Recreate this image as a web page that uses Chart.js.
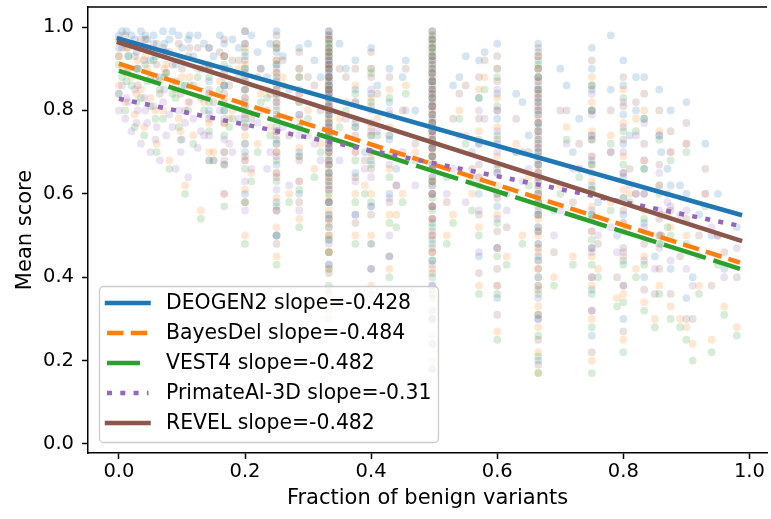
<!DOCTYPE html>
<html>
<head>
<meta charset="utf-8">
<script src="https://cdn.jsdelivr.net/npm/chart.js@4.4.1/dist/chart.umd.min.js"></script>
<style>
  body { margin: 0; background: #fff; }
  canvas { display: block; }
</style>
</head>
<body>
<canvas id="scoreChart" width="771" height="519"></canvas>
<script>
const xTicks = [0, 0.2, 0.4, 0.6, 0.8, 1.0];
const yTicks = [0, 0.2, 0.4, 0.6, 0.8, 1.0];

const predictors = ['DEOGEN2', 'BayesDel', 'VEST4', 'PrimateAI-3D', 'REVEL'];
const slopes = ['-0.428', '-0.484', '-0.482', '-0.31', '-0.482'];

// regression lines, y at the two ends of fitX
const fitX = [0, 0.985];
const deogenFit = [0.972, 0.55];
const bayesFit = [0.912, 0.435];
const vestFit = [0.895, 0.42];
const primateFit = [0.828, 0.523];
const revelFit = [0.963, 0.488];

// genes that share the same fraction of benign variants (vertical stripes)
const columnX = [0.143, 0.167, 0.2, 0.25, 0.286, 0.333, 0.375, 0.4, 0.429, 0.497,
                 0.571, 0.6, 0.665, 0.75, 0.8, 0.833, 0.857, 0.875, 0.9];

const deogenColumns = [
  [0.95, 0.91, 0.87, 0.8],
  [0.96, 0.93, 0.9, 0.86, 0.8, 0.7],
  [0.99, 0.96, 0.93, 0.9, 0.87, 0.83, 0.78, 0.7, 0.6],
  [0.99, 0.96, 0.94, 0.91, 0.88, 0.85, 0.82, 0.78, 0.73, 0.67, 0.58, 0.5],
  [0.95, 0.9, 0.85, 0.79, 0.7, 0.6],
  [0.99, 0.98, 0.97, 0.96, 0.95, 0.94, 0.93, 0.92, 0.91, 0.9, 0.89, 0.88, 0.87, 0.86, 0.85, 0.84, 0.83, 0.81, 0.79, 0.77, 0.75, 0.73, 0.71, 0.68, 0.65, 0.62, 0.58, 0.54, 0.49, 0.43],
  [0.92, 0.85, 0.77, 0.65, 0.55],
  [0.95, 0.9, 0.84, 0.77, 0.68, 0.57, 0.42],
  [0.9, 0.82, 0.73, 0.6, 0.45],
  [0.99, 0.98, 0.97, 0.96, 0.95, 0.94, 0.93, 0.92, 0.9, 0.89, 0.87, 0.86, 0.84, 0.83, 0.81, 0.79, 0.77, 0.75, 0.73, 0.71, 0.69, 0.66, 0.63, 0.6, 0.57, 0.53, 0.49, 0.44, 0.38, 0.3],
  [0.92, 0.83, 0.72, 0.6, 0.45],
  [0.96, 0.9, 0.84, 0.78, 0.72, 0.65, 0.57, 0.47, 0.35],
  [0.96, 0.94, 0.92, 0.9, 0.88, 0.86, 0.84, 0.82, 0.8, 0.77, 0.75, 0.72, 0.7, 0.67, 0.64, 0.6, 0.56, 0.51, 0.45, 0.38, 0.3, 0.2],
  [0.95, 0.9, 0.85, 0.8, 0.74, 0.68, 0.62, 0.55, 0.47, 0.37, 0.26],
  [0.92, 0.86, 0.79, 0.72, 0.64, 0.55, 0.44, 0.3],
  [0.88, 0.78, 0.66, 0.53, 0.4],
  [0.85, 0.74, 0.62, 0.5],
  [0.8, 0.62, 0.42],
  [0.82, 0.6, 0.35]
];
const bayesColumns = [
  [0.9, 0.84, 0.77, 0.7],
  [0.93, 0.88, 0.83, 0.77, 0.7, 0.6],
  [0.95, 0.91, 0.87, 0.83, 0.79, 0.74, 0.68, 0.61, 0.5],
  [0.96, 0.92, 0.89, 0.85, 0.82, 0.78, 0.74, 0.7, 0.65, 0.59, 0.52, 0.45],
  [0.9, 0.84, 0.78, 0.71, 0.63, 0.54],
  [0.97, 0.95, 0.93, 0.91, 0.9, 0.88, 0.86, 0.85, 0.83, 0.81, 0.8, 0.78, 0.76, 0.74, 0.72, 0.7, 0.68, 0.66, 0.64, 0.62, 0.59, 0.56, 0.53, 0.5, 0.46, 0.42, 0.37, 0.32],
  [0.86, 0.78, 0.7, 0.6, 0.5],
  [0.9, 0.83, 0.76, 0.69, 0.6, 0.5, 0.38],
  [0.85, 0.76, 0.66, 0.55, 0.42],
  [0.98, 0.96, 0.94, 0.92, 0.9, 0.88, 0.86, 0.84, 0.82, 0.8, 0.78, 0.76, 0.74, 0.72, 0.7, 0.68, 0.66, 0.63, 0.6, 0.57, 0.54, 0.5, 0.46, 0.42, 0.37, 0.32, 0.26, 0.2],
  [0.85, 0.75, 0.64, 0.52, 0.38],
  [0.9, 0.83, 0.76, 0.69, 0.62, 0.55, 0.47, 0.38, 0.27],
  [0.93, 0.9, 0.87, 0.84, 0.81, 0.78, 0.75, 0.72, 0.69, 0.66, 0.63, 0.6, 0.57, 0.54, 0.5, 0.46, 0.42, 0.38, 0.33, 0.28, 0.22, 0.17],
  [0.88, 0.82, 0.75, 0.69, 0.63, 0.57, 0.51, 0.45, 0.38, 0.3, 0.2],
  [0.85, 0.77, 0.69, 0.61, 0.53, 0.45, 0.36, 0.25],
  [0.8, 0.68, 0.56, 0.45, 0.34],
  [0.75, 0.62, 0.5, 0.38],
  [0.7, 0.52, 0.33],
  [0.72, 0.5, 0.28]
];
const vestColumns = [
  [0.88, 0.82, 0.75, 0.68],
  [0.91, 0.86, 0.8, 0.74, 0.67, 0.57],
  [0.94, 0.9, 0.85, 0.81, 0.77, 0.72, 0.66, 0.58, 0.48],
  [0.95, 0.91, 0.87, 0.84, 0.8, 0.76, 0.72, 0.68, 0.63, 0.57, 0.5, 0.43],
  [0.88, 0.82, 0.76, 0.69, 0.61, 0.52],
  [0.96, 0.94, 0.92, 0.9, 0.88, 0.86, 0.85, 0.83, 0.81, 0.79, 0.77, 0.75, 0.73, 0.71, 0.69, 0.67, 0.65, 0.63, 0.6, 0.58, 0.55, 0.52, 0.49, 0.46, 0.42, 0.38, 0.34, 0.3],
  [0.84, 0.76, 0.68, 0.58, 0.48],
  [0.89, 0.82, 0.74, 0.67, 0.58, 0.48, 0.36],
  [0.83, 0.74, 0.64, 0.53, 0.4],
  [0.97, 0.95, 0.93, 0.91, 0.89, 0.87, 0.85, 0.83, 0.81, 0.79, 0.77, 0.75, 0.73, 0.71, 0.69, 0.67, 0.64, 0.62, 0.59, 0.56, 0.52, 0.48, 0.44, 0.4, 0.35, 0.3, 0.24, 0.18],
  [0.83, 0.73, 0.62, 0.5, 0.36],
  [0.88, 0.81, 0.74, 0.67, 0.6, 0.53, 0.45, 0.36, 0.25],
  [0.91, 0.88, 0.85, 0.82, 0.79, 0.76, 0.73, 0.7, 0.67, 0.64, 0.61, 0.58, 0.55, 0.52, 0.48, 0.44, 0.4, 0.36, 0.31, 0.26, 0.21, 0.17],
  [0.86, 0.8, 0.73, 0.67, 0.61, 0.55, 0.49, 0.43, 0.36, 0.28, 0.17],
  [0.83, 0.75, 0.67, 0.59, 0.51, 0.43, 0.34, 0.22],
  [0.78, 0.66, 0.54, 0.43, 0.32],
  [0.73, 0.6, 0.48, 0.36],
  [0.68, 0.5, 0.3],
  [0.7, 0.48, 0.25]
];
const primateColumns = [
  [0.84, 0.79, 0.74, 0.68],
  [0.86, 0.82, 0.78, 0.73, 0.68, 0.6],
  [0.88, 0.85, 0.82, 0.79, 0.76, 0.72, 0.68, 0.63, 0.56],
  [0.9, 0.87, 0.84, 0.81, 0.78, 0.75, 0.72, 0.69, 0.65, 0.61, 0.56, 0.5],
  [0.84, 0.79, 0.74, 0.69, 0.63, 0.56],
  [0.92, 0.91, 0.89, 0.88, 0.86, 0.85, 0.84, 0.82, 0.81, 0.8, 0.79, 0.77, 0.76, 0.75, 0.74, 0.72, 0.71, 0.7, 0.68, 0.67, 0.65, 0.63, 0.61, 0.58, 0.55, 0.52, 0.48, 0.43],
  [0.82, 0.76, 0.7, 0.63, 0.55],
  [0.85, 0.8, 0.75, 0.7, 0.64, 0.57, 0.48],
  [0.8, 0.74, 0.67, 0.59, 0.5],
  [0.92, 0.9, 0.88, 0.87, 0.85, 0.84, 0.82, 0.81, 0.8, 0.78, 0.77, 0.75, 0.74, 0.72, 0.71, 0.69, 0.67, 0.66, 0.64, 0.62, 0.6, 0.57, 0.54, 0.51, 0.47, 0.43, 0.38, 0.32],
  [0.8, 0.72, 0.64, 0.56, 0.46],
  [0.85, 0.8, 0.75, 0.7, 0.65, 0.6, 0.54, 0.47, 0.38],
  [0.87, 0.85, 0.83, 0.81, 0.79, 0.77, 0.75, 0.73, 0.71, 0.69, 0.67, 0.65, 0.63, 0.6, 0.58, 0.55, 0.52, 0.48, 0.44, 0.4, 0.35, 0.3],
  [0.84, 0.79, 0.74, 0.69, 0.65, 0.6, 0.56, 0.51, 0.46, 0.4, 0.32],
  [0.82, 0.76, 0.7, 0.65, 0.59, 0.53, 0.46, 0.38],
  [0.77, 0.68, 0.6, 0.52, 0.44],
  [0.74, 0.65, 0.56, 0.47],
  [0.7, 0.57, 0.44],
  [0.72, 0.56, 0.42]
];
const revelColumns = [
  [0.95, 0.9, 0.85, 0.78],
  [0.97, 0.93, 0.89, 0.84, 0.77, 0.67],
  [0.99, 0.96, 0.92, 0.89, 0.85, 0.81, 0.76, 0.69, 0.58],
  [0.98, 0.95, 0.92, 0.89, 0.86, 0.83, 0.79, 0.75, 0.7, 0.64, 0.56, 0.48],
  [0.94, 0.88, 0.82, 0.76, 0.68, 0.58],
  [0.99, 0.98, 0.97, 0.95, 0.94, 0.93, 0.91, 0.9, 0.88, 0.87, 0.85, 0.84, 0.82, 0.8, 0.78, 0.76, 0.74, 0.72, 0.7, 0.67, 0.64, 0.61, 0.58, 0.54, 0.5, 0.46, 0.41, 0.36],
  [0.9, 0.82, 0.74, 0.64, 0.53],
  [0.94, 0.88, 0.81, 0.74, 0.66, 0.55, 0.42],
  [0.88, 0.79, 0.69, 0.58, 0.45],
  [0.99, 0.97, 0.95, 0.93, 0.91, 0.89, 0.87, 0.85, 0.83, 0.81, 0.79, 0.77, 0.75, 0.73, 0.71, 0.69, 0.66, 0.63, 0.6, 0.57, 0.54, 0.5, 0.46, 0.41, 0.36, 0.3, 0.24, 0.18],
  [0.88, 0.78, 0.67, 0.55, 0.41],
  [0.93, 0.87, 0.8, 0.73, 0.66, 0.59, 0.51, 0.42, 0.31],
  [0.95, 0.93, 0.9, 0.88, 0.85, 0.83, 0.8, 0.77, 0.74, 0.71, 0.68, 0.65, 0.62, 0.58, 0.55, 0.51, 0.47, 0.42, 0.37, 0.31, 0.25, 0.19],
  [0.92, 0.86, 0.8, 0.73, 0.67, 0.61, 0.54, 0.47, 0.4, 0.32, 0.22],
  [0.88, 0.81, 0.73, 0.65, 0.56, 0.47, 0.38, 0.27],
  [0.84, 0.72, 0.6, 0.48, 0.37],
  [0.8, 0.67, 0.54, 0.42],
  [0.75, 0.56, 0.36],
  [0.77, 0.54, 0.3]
];

// scattered genes in the middle and right part, one value per fraction
const midX = [0.36, 0.39, 0.41, 0.44, 0.455, 0.52, 0.54, 0.56, 0.58, 0.615, 0.63, 0.65, 0.69,
              0.71, 0.73, 0.76, 0.78, 0.79, 0.81, 0.82, 0.85, 0.87, 0.91, 0.93, 0.95];
const deogenMid = [0.9, 0.7, 0.86, 0.66, 0.92, 0.64, 0.88, 0.7, 0.94, 0.6, 0.84, 0.74, 0.56,
                   0.86, 0.78, 0.58, 0.85, 0.5, 0.74, 0.88, 0.45, 0.66, 0.4, 0.72, 0.6];
const bayesMid = [0.82, 0.62, 0.78, 0.55, 0.86, 0.5, 0.8, 0.6, 0.88, 0.45, 0.72, 0.64, 0.4,
                  0.76, 0.66, 0.42, 0.74, 0.35, 0.6, 0.78, 0.3, 0.55, 0.24, 0.6, 0.45];
const vestMid = [0.8, 0.6, 0.74, 0.52, 0.84, 0.48, 0.78, 0.56, 0.85, 0.43, 0.7, 0.62, 0.38,
                 0.73, 0.64, 0.4, 0.72, 0.33, 0.58, 0.75, 0.28, 0.52, 0.2, 0.57, 0.43];
const primateMid = [0.78, 0.66, 0.75, 0.62, 0.8, 0.6, 0.74, 0.64, 0.78, 0.56, 0.7, 0.66, 0.5,
                    0.72, 0.66, 0.5, 0.7, 0.46, 0.62, 0.74, 0.42, 0.58, 0.38, 0.6, 0.5];
const revelMid = [0.88, 0.68, 0.84, 0.62, 0.9, 0.58, 0.84, 0.66, 0.92, 0.52, 0.78, 0.7, 0.46,
                  0.8, 0.72, 0.48, 0.8, 0.4, 0.66, 0.82, 0.36, 0.6, 0.3, 0.66, 0.5];

// the rest of the genes, [fraction benign, mean score]
const deogenOther = [[0,0.98],[0,0.95],[0.005,0.99],[0.01,0.96],[0.012,0.99],[0.015,0.93],[0.02,0.98],[0.025,0.97],[0.028,0.94],[0.03,0.9],[0.035,0.99],[0.04,0.95],[0.042,0.98],[0.045,0.97],[0.05,0.92],[0.055,0.98],[0.058,0.93],[0.06,0.96],[0.065,0.88],[0.07,0.99],[0.072,0.96],[0.075,0.94],[0.08,0.97],[0.085,0.99],[0.09,0.91],[0.095,0.98],[0.098,0.92],[0.1,0.95],[0.105,0.86],[0.11,0.97],[0.112,0.98],[0.118,0.93],[0.125,0.98],[0.13,0.9],[0.135,0.96],[0.15,0.93],[0.16,0.98],[0.175,0.9],[0.18,0.97],[0.19,0.95],[0.21,0.98],[0.22,0.94],[0.225,0.9],[0.235,0.88],[0.24,0.96],[0.26,0.93],[0.27,0.85],[0.3,0.96],[0.31,0.92],[0.32,0.88],[0.35,0.96],[0.45,0.88],[0.47,0.8],[0.53,0.86],[0.55,0.93],[0.64,0.82],[0.7,0.9],[0.72,0.7],[0.78,0.98],[0.82,0.8],[0.86,0.7],[0.89,0.62],[0.92,0.55],[0.94,0.5],[0.96,0.42],[0.98,0.52]];
const bayesOther = [[0,0.93],[0,0.86],[0.005,0.9],[0.01,0.82],[0.012,0.89],[0.015,0.95],[0.02,0.88],[0.025,0.79],[0.028,0.84],[0.03,0.92],[0.035,0.85],[0.04,0.76],[0.042,0.93],[0.045,0.9],[0.05,0.83],[0.055,0.94],[0.058,0.8],[0.06,0.72],[0.065,0.87],[0.07,0.8],[0.072,0.9],[0.075,0.91],[0.08,0.68],[0.085,0.86],[0.09,0.85],[0.095,0.78],[0.098,0.75],[0.1,0.88],[0.105,0.62],[0.11,0.82],[0.112,0.88],[0.118,0.74],[0.125,0.9],[0.13,0.56],[0.135,0.82],[0.15,0.7],[0.16,0.87],[0.175,0.78],[0.18,0.8],[0.19,0.9],[0.21,0.65],[0.22,0.72],[0.225,0.84],[0.235,0.85],[0.24,0.76],[0.26,0.88],[0.27,0.6],[0.3,0.8],[0.31,0.66],[0.32,0.72],[0.35,0.78],[0.45,0.6],[0.47,0.7],[0.53,0.55],[0.55,0.74],[0.64,0.5],[0.7,0.62],[0.72,0.45],[0.78,0.58],[0.82,0.42],[0.86,0.5],[0.89,0.3],[0.92,0.38],[0.94,0.25],[0.96,0.33],[0.98,0.28]];
const vestOther = [[0,0.91],[0,0.84],[0.005,0.88],[0.01,0.8],[0.012,0.87],[0.015,0.93],[0.02,0.86],[0.025,0.76],[0.028,0.82],[0.03,0.9],[0.035,0.83],[0.04,0.74],[0.042,0.91],[0.045,0.87],[0.05,0.81],[0.055,0.92],[0.058,0.78],[0.06,0.7],[0.065,0.85],[0.07,0.78],[0.072,0.88],[0.075,0.89],[0.08,0.66],[0.085,0.84],[0.09,0.83],[0.095,0.76],[0.098,0.73],[0.1,0.86],[0.105,0.6],[0.11,0.8],[0.112,0.86],[0.118,0.72],[0.125,0.88],[0.13,0.54],[0.135,0.8],[0.15,0.68],[0.16,0.85],[0.175,0.76],[0.18,0.78],[0.19,0.88],[0.21,0.63],[0.22,0.7],[0.225,0.82],[0.235,0.83],[0.24,0.74],[0.26,0.86],[0.27,0.58],[0.3,0.78],[0.31,0.64],[0.32,0.7],[0.35,0.76],[0.45,0.58],[0.47,0.68],[0.53,0.53],[0.55,0.72],[0.64,0.48],[0.7,0.6],[0.72,0.43],[0.78,0.56],[0.82,0.4],[0.86,0.48],[0.89,0.28],[0.92,0.36],[0.94,0.22],[0.96,0.31],[0.98,0.26]];
const primateOther = [[0,0.84],[0,0.8],[0.005,0.86],[0.01,0.78],[0.012,0.83],[0.015,0.82],[0.02,0.75],[0.025,0.85],[0.028,0.77],[0.03,0.8],[0.035,0.72],[0.04,0.83],[0.042,0.8],[0.045,0.77],[0.05,0.7],[0.055,0.81],[0.058,0.73],[0.06,0.76],[0.065,0.68],[0.07,0.82],[0.072,0.85],[0.075,0.74],[0.08,0.79],[0.085,0.76],[0.09,0.66],[0.095,0.8],[0.098,0.7],[0.1,0.73],[0.105,0.77],[0.11,0.64],[0.112,0.82],[0.118,0.78],[0.125,0.71],[0.13,0.75],[0.135,0.74],[0.15,0.68],[0.16,0.8],[0.175,0.72],[0.18,0.7],[0.19,0.78],[0.21,0.66],[0.22,0.77],[0.225,0.8],[0.235,0.66],[0.24,0.7],[0.26,0.76],[0.27,0.62],[0.3,0.74],[0.31,0.72],[0.32,0.68],[0.35,0.68],[0.45,0.7],[0.47,0.62],[0.53,0.66],[0.55,0.58],[0.64,0.63],[0.7,0.56],[0.72,0.66],[0.78,0.52],[0.82,0.6],[0.86,0.5],[0.89,0.55],[0.92,0.45],[0.94,0.52],[0.96,0.4],[0.98,0.47]];
const revelOther = [[0,0.97],[0,0.93],[0.005,0.95],[0.01,0.98],[0.012,0.95],[0.015,0.9],[0.02,0.96],[0.025,0.93],[0.028,0.9],[0.03,0.86],[0.035,0.97],[0.04,0.92],[0.042,0.97],[0.045,0.95],[0.05,0.88],[0.055,0.96],[0.058,0.88],[0.06,0.91],[0.065,0.84],[0.07,0.95],[0.072,0.94],[0.075,0.89],[0.08,0.94],[0.085,0.91],[0.09,0.87],[0.095,0.96],[0.098,0.84],[0.1,0.9],[0.105,0.8],[0.11,0.93],[0.112,0.95],[0.118,0.86],[0.125,0.95],[0.13,0.83],[0.135,0.9],[0.15,0.82],[0.16,0.94],[0.175,0.86],[0.18,0.92],[0.19,0.92],[0.21,0.78],[0.22,0.88],[0.225,0.9],[0.235,0.8],[0.24,0.84],[0.26,0.92],[0.27,0.74],[0.3,0.88],[0.31,0.86],[0.32,0.8],[0.35,0.9],[0.45,0.8],[0.47,0.72],[0.53,0.78],[0.55,0.86],[0.64,0.7],[0.7,0.8],[0.72,0.58],[0.78,0.7],[0.82,0.6],[0.86,0.55],[0.89,0.45],[0.92,0.5],[0.94,0.38],[0.96,0.46],[0.98,0.4]];

const colors = ['#1f77b4', '#ff7f0e', '#2ca02c', '#9467bd', '#8c564b'];
const fits = [deogenFit, bayesFit, vestFit, primateFit, revelFit];
const columnSets = [deogenColumns, bayesColumns, vestColumns, primateColumns, revelColumns];
const midSets = [deogenMid, bayesMid, vestMid, primateMid, revelMid];
const otherSets = [deogenOther, bayesOther, vestOther, primateOther, revelOther];
const dashes = [[], [16.5, 7.2], [44, 8], [5, 8.3], []];
const legendDashes = [[], [16.5, 7.2], [33, 20], [5, 8.3], []];

function toPoints(columns, mid, other) {
    const pts = [];
    columns.forEach((ys, i) => ys.forEach(y => pts.push({ x: columnX[i], y: y })));
    mid.forEach((y, i) => pts.push({ x: midX[i], y: y }));
    other.forEach(p => pts.push({ x: p[0], y: p[1] }));
    return pts;
}

function fade(hex, a) {
    const n = parseInt(hex.slice(1), 16);
    return `rgba(${n >> 16}, ${(n >> 8) & 255}, ${n & 255}, ${a})`;
}

const datasets = [];
predictors.forEach((name, i) => {
    datasets.push({
        label: name + ' scores',
        data: toPoints(columnSets[i], midSets[i], otherSets[i]),
        backgroundColor: fade(colors[i], 0.19),
        borderWidth: 0,
        pointRadius: 3.9,
        pointHoverRadius: 3.9,
        order: 10 + (4 - i)
    });
});
predictors.forEach((name, i) => {
    datasets.push({
        label: `${name} slope=${slopes[i]}`,
        data: fitX.map((x, k) => ({ x: x, y: fits[i][k] })),
        showLine: true,
        borderColor: colors[i],
        borderWidth: 4.5,
        borderDash: dashes[i],
        borderCapStyle: dashes[i].length ? 'butt' : 'square',
        pointRadius: 0,
        fitLine: true,
        legendDash: legendDashes[i],
        order: 5 - i
    });
});

const frameAndLegend = {
    id: 'frameAndLegend',
    afterDatasetsDraw(chart) {
        const ctx = chart.ctx;
        const area = chart.chartArea;
        ctx.save();
        // top spine
        ctx.strokeStyle = '#000';
        ctx.lineWidth = 1.5;
        ctx.beginPath();
        ctx.moveTo(area.left, area.top);
        ctx.lineTo(area.right, area.top);
        ctx.stroke();

        // legend box
        const bx = 99.5, by = 286.5, bw = 339, bh = 156;
        ctx.beginPath();
        ctx.roundRect(bx, by, bw, bh, 4);
        ctx.fillStyle = 'rgba(255,255,255,0.8)';
        ctx.fill();
        ctx.strokeStyle = '#cccccc';
        ctx.lineWidth = 1.3;
        ctx.stroke();

        ctx.font = '20.4px "DejaVu Sans"';
        ctx.textBaseline = 'middle';
        ctx.fillStyle = '#000';
        chart.data.datasets.filter(d => d.fitLine).forEach((d, i) => {
            const y = 303 + i * 30;
            ctx.strokeStyle = d.borderColor;
            ctx.lineWidth = d.borderWidth;
            ctx.lineCap = d.borderCapStyle;
            ctx.setLineDash(d.legendDash);
            ctx.beginPath();
            ctx.moveTo(107, y);
            ctx.lineTo(148.5, y);
            ctx.stroke();
            ctx.setLineDash([]);
            ctx.fillText(d.label, 166, y + 1);
        });
        ctx.restore();
    }
};

const tickFont = { family: 'DejaVu Sans', size: 19.5 };
const titleFont = { family: 'DejaVu Sans', size: 21 };

new Chart(document.getElementById('scoreChart'), {
    type: 'scatter',
    data: { datasets: datasets },
    options: {
        responsive: false,
        animation: false,
        devicePixelRatio: 1,
        layout: { padding: { top: 7, left: 0, right: 0, bottom: 0 } },
        plugins: {
            legend: { display: false },
            tooltip: { enabled: false }
        },
        scales: {
            x: {
                type: 'linear',
                min: -0.049,
                max: 1.028,
                afterFit: s => { s.height = 66; s.paddingLeft = 0; s.paddingRight = 0; },
                afterBuildTicks: s => { s.ticks = xTicks.map(v => ({ value: v })); },
                ticks: {
                    color: '#000',
                    font: tickFont,
                    padding: 1,
                    maxRotation: 0,
                    autoSkip: false,
                    callback: v => v.toFixed(1)
                },
                grid: { drawOnChartArea: false, drawTicks: true, tickLength: 6, tickColor: '#000', tickWidth: 1.5 },
                border: { display: true, color: '#000', width: 1.5 },
                title: {
                    display: true,
                    text: 'Fraction of benign variants',
                    color: '#000',
                    font: titleFont,
                    padding: { top: 0, bottom: 8 }
                }
            },
            y: {
                type: 'linear',
                min: -0.0216,
                max: 1.048,
                afterFit: s => { s.width = 88; s.paddingTop = 0; s.paddingBottom = 0; },
                afterBuildTicks: s => { s.ticks = yTicks.map(v => ({ value: v })); },
                ticks: {
                    color: '#000',
                    font: tickFont,
                    padding: 8,
                    autoSkip: false,
                    callback: v => v.toFixed(1)
                },
                grid: { drawOnChartArea: false, drawTicks: true, tickLength: 6, tickColor: '#000', tickWidth: 1.5 },
                border: { display: true, color: '#000', width: 1.5 },
                title: {
                    display: true,
                    text: 'Mean score',
                    color: '#000',
                    font: titleFont,
                    padding: { top: 13, bottom: 0 }
                }
            }
        }
    },
    plugins: [frameAndLegend]
});
</script>
</body>
</html>
